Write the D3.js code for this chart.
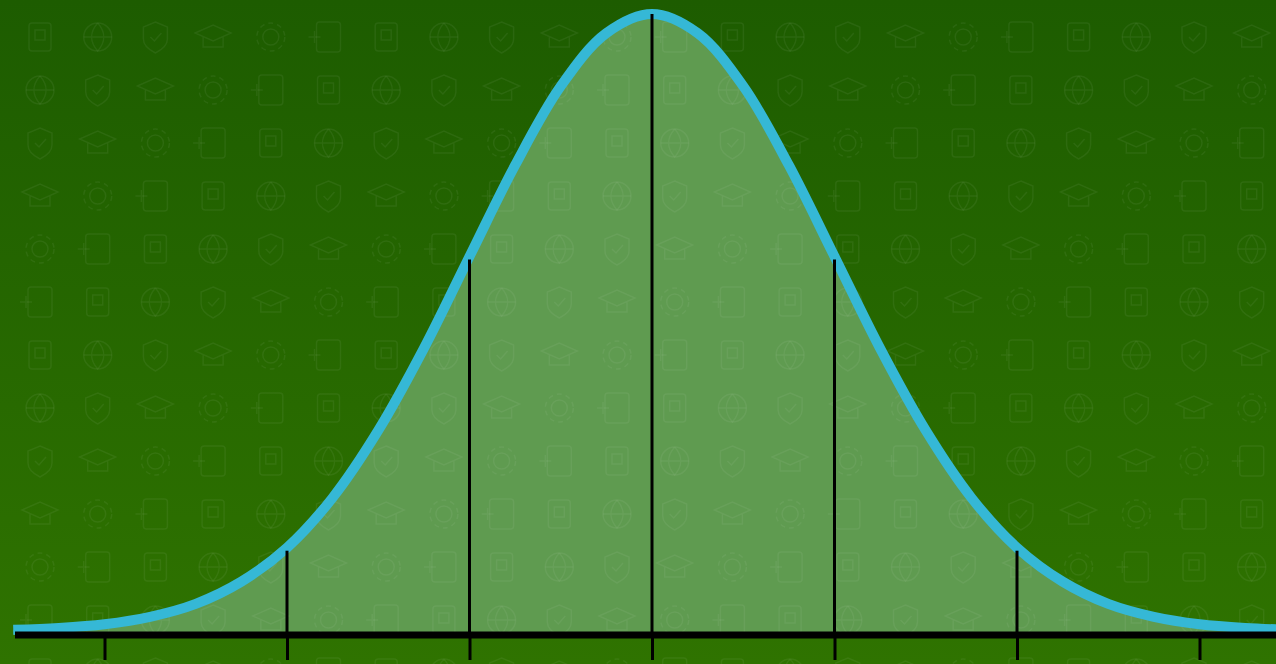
<!DOCTYPE html>
<html>
  <head>
    <title></title>
    <style>
      body, html{
        margin: 0;
        width: 100%;
        height: 100%;
        overflow: hidden;
      }
    </style>
  </head>
  <body>
    <div id="chart"></div>
    <script src="https://cdnjs.cloudflare.com/ajax/libs/d3/7.8.5/d3.min.js" charset="utf-8"></script>
    <script>
      // curve: z (in sigmas) and height relative to the peak
      var zValues = [-3.5, -3.25, -3, -2.75, -2.5, -2.25, -2, -1.75, -1.5, -1.25, -1, -0.75, -0.5, -0.25,
                     0, 0.25, 0.5, 0.75, 1, 1.25, 1.5, 1.75, 2, 2.25, 2.5, 2.75, 3, 3.25, 3.5]
      var heights = [0.002, 0.005, 0.011, 0.023, 0.044, 0.080, 0.135, 0.216, 0.325, 0.458, 0.607, 0.755, 0.883, 0.969,
                     1.0, 0.969, 0.883, 0.755, 0.607, 0.458, 0.325, 0.216, 0.135, 0.080, 0.044, 0.023, 0.011, 0.005, 0.002]
      // vertical lines up to the curve, and ticks under the axis
      var dropLines = [-2, -1, 0, 1, 2]
      var dropHeights = [0.135, 0.607, 1.0, 0.607, 0.135]
      var tickValues = [-3, -2, -1, 0, 1, 2, 3]

      var width = 1276, height = 664
      var svg = d3.select('#chart').append('svg').attr('width', width).attr('height', height)

      var defs = svg.append('defs')
      var grad = defs.append('linearGradient').attr('id', 'bg').attr('x1', 0).attr('y1', 0).attr('x2', 0).attr('y2', 1)
      grad.append('stop').attr('offset', '0%').attr('stop-color', '#1d5c00')
      grad.append('stop').attr('offset', '100%').attr('stop-color', '#2f7300')
      svg.append('rect').attr('width', width).attr('height', height).attr('fill', 'url(#bg)')

      var x = d3.scaleLinear().domain([-3.5, 3.5]).range([652 - 3.5 * 182.5, 652 + 3.5 * 182.5])
      var y = d3.scaleLinear().domain([0, 1]).range([631, 14])
      var axisY = 635

      var pts = zValues.map(function(z, i){ return [z, heights[i]] })
        .filter(function(d){ return x(d[0]) >= 10 })

      // shaded area under the curve
      var area = d3.area().curve(d3.curveCatmullRom)
        .x(function(d){ return x(d[0]) })
        .y0(axisY).y1(function(d){ return y(d[1]) })
      svg.append('path').datum(pts).attr('d', area).attr('fill', '#5f9b50')

      // faint icon pattern
      var icons = svg.append('g').attr('fill', 'none')
        .attr('stroke', 'rgba(255,255,255,0.06)').attr('stroke-width', 1.5)
      var k = 0
      for(var row = 0; row < 13; row++){
        for(var col = 0; col < 23; col++){
          var cx = 40 + col * 57.7, cy = 37 + row * 53
          var g = icons.append('g').attr('transform', 'translate(' + cx + ',' + cy + ')')
          var kind = (k + row * 2) % 6
          k++
          if(kind === 0){
            g.append('rect').attr('x', -11).attr('y', -14).attr('width', 22).attr('height', 28).attr('rx', 3)
            g.append('rect').attr('x', -5).attr('y', -7).attr('width', 10).attr('height', 10)
          }else if(kind === 1){
            g.append('circle').attr('r', 14)
            g.append('path').attr('d', 'M-14,0 L14,0 M0,-14 C-8,-5 -8,5 0,14 C8,5 8,-5 0,-14')
          }else if(kind === 2){
            g.append('path').attr('d', 'M0,-15 L12,-10 L12,2 C12,9 6,13 0,16 C-6,13 -12,9 -12,2 L-12,-10 Z')
            g.append('path').attr('d', 'M-5,0 L-1,4 L6,-4')
          }else if(kind === 3){
            g.append('path').attr('d', 'M-18,-4 L0,-12 L18,-4 L0,4 Z M-10,0 L-10,10 L10,10 L10,0')
          }else if(kind === 4){
            g.append('circle').attr('r', 8)
            g.append('circle').attr('r', 14).attr('stroke-dasharray', '5,4')
          }else{
            g.append('rect').attr('x', -12).attr('y', -15).attr('width', 24).attr('height', 30).attr('rx', 3)
            g.append('path').attr('d', 'M-20,0 L-8,0 M-14,-6 L-14,6')
          }
        }
      }

      // the curve
      var line = d3.line().curve(d3.curveCatmullRom)
        .x(function(d){ return x(d[0]) }).y(function(d){ return y(d[1]) })
      svg.append('path').datum(pts).attr('d', line)
        .attr('fill', 'none').attr('stroke', '#35b8d6').attr('stroke-width', 10)

      // vertical lines, drawn over the curve
      svg.append('g').selectAll('line').data(dropLines).enter().append('line')
        .attr('x1', function(d){ return x(d) }).attr('x2', function(d){ return x(d) })
        .attr('y1', axisY).attr('y2', function(d, i){ return y(dropHeights[i]) + (d === 0 ? 0 : 3) })
        .attr('stroke', '#000').attr('stroke-width', 3)

      // baseline axis with ticks
      var axis = d3.axisBottom(x).tickValues(tickValues).tickSize(25).tickFormat('')
      var ax = svg.append('g').attr('transform', 'translate(0,' + axisY + ')').call(axis)
      ax.select('.domain').remove()
      ax.selectAll('.tick line').attr('stroke', '#000').attr('stroke-width', 3)
      ax.append('line').attr('x1', 15).attr('x2', width).attr('y1', 0).attr('y2', 0)
        .attr('stroke', '#000').attr('stroke-width', 7)
    </script>
  </body>
</html>
